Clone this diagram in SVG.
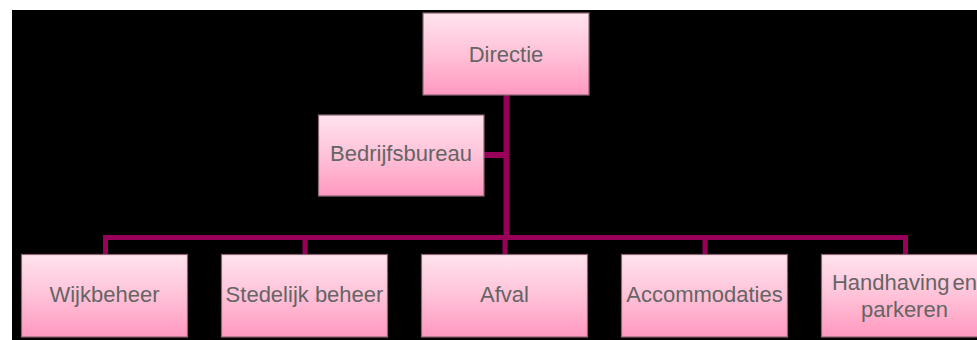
<svg xmlns="http://www.w3.org/2000/svg" width="977" height="340" viewBox="0 0 977 340">
<defs>
<linearGradient id="boxGrad" x1="0" y1="0" x2="0" y2="1">
<stop offset="0" stop-color="#ffe3ee"/>
<stop offset="0.5" stop-color="#ffc2d8"/>
<stop offset="1" stop-color="#ff98bf"/>
</linearGradient>
<style>
.box{fill:url(#boxGrad);stroke:#8a6573;stroke-width:1.2}
.lbl{font-family:"Liberation Sans",Arial,sans-serif;font-size:22px;fill:#656565;text-anchor:middle}
.conn{stroke:#990059;fill:none}
</style>
</defs>
<rect x="12" y="10" width="965" height="330" fill="#000"/>
<g id="connectors">
<line class="conn" x1="506.5" y1="95" x2="506.5" y2="240" stroke-width="6"/>
<line class="conn" x1="484" y1="155" x2="506" y2="155" stroke-width="6"/>
<polyline class="conn" points="105.5,254 105.5,237.5 905.5,237.5 905.5,254" stroke-width="5"/>
<line class="conn" x1="305" y1="237.5" x2="305" y2="254" stroke-width="5"/>
<line class="conn" x1="505" y1="237.5" x2="505" y2="254" stroke-width="5"/>
<line class="conn" x1="705" y1="237.5" x2="705" y2="254" stroke-width="5"/>
</g>
<g id="directie">
<rect class="box" x="423" y="13" width="166" height="82"/>
<text class="lbl" x="506" y="62">Directie</text>
</g>
<g id="bedrijfsbureau">
<rect class="box" x="318.5" y="115" width="165.5" height="81"/>
<text class="lbl" x="401" y="161">Bedrijfsbureau</text>
</g>
<g id="wijkbeheer">
<rect class="box" x="21.5" y="254.5" width="166" height="82.5"/>
<text class="lbl" x="104.5" y="302">Wijkbeheer</text>
</g>
<g id="stedelijk-beheer">
<rect class="box" x="221.5" y="254.5" width="166" height="82.5"/>
<text class="lbl" x="304.5" y="302">Stedelijk beheer</text>
</g>
<g id="afval">
<rect class="box" x="421.5" y="254.5" width="166" height="82.5"/>
<text class="lbl" x="504.5" y="302">Afval</text>
</g>
<g id="accommodaties">
<rect class="box" x="621.5" y="254.5" width="166" height="82.5"/>
<text class="lbl" x="704.5" y="302">Accommodaties</text>
</g>
<g id="handhaving">
<rect class="box" x="821.5" y="254.5" width="166" height="82.5"/>
<text class="lbl" x="904.5" y="290" word-spacing="-3">Handhaving en</text>
<text class="lbl" x="904.5" y="316.5">parkeren</text>
</g>
</svg>
